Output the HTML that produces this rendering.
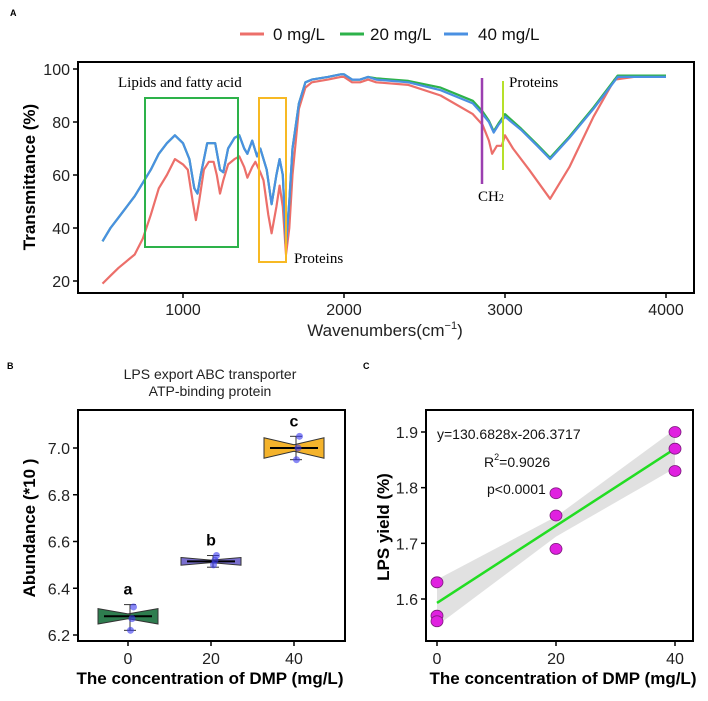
<!DOCTYPE html>
<html><head><meta charset="utf-8">
<style>
html,body{margin:0;padding:0;background:#fff;overflow:hidden;}
svg{display:block;font-family:"Liberation Sans",Arial,sans-serif;}
</style></head>
<body>
<svg id="fig" width="708" height="701" viewBox="0 0 708 701" xmlns="http://www.w3.org/2000/svg">
<rect x="0" y="0" width="708" height="701" fill="#ffffff"/>
<g id="pa"></g>
<g id="pb"></g>
<g id="pc"></g>
</svg>
<script>
// ---------- Panel A data ----------
const wnRed = [500,550,600,700,750,800,850,900,950,1000,1030,1060,1080,1100,1130,1160,1190,1210,1230,1250,1280,1320,1350,1380,1400,1430,1450,1480,1500,1530,1550,1580,1600,1620,1640,1660,1680,1720,1760,1800,1900,1980,2000,2050,2100,2150,2200,2400,2600,2800,2860,2900,2920,2950,2980,3000,3050,3150,3280,3400,3550,3680,3800,4000];
const tRed = [19,22,25,30,36,45,55,60,66,64,62,50,43,50,62,65,65,60,53,58,64,66,67,63,59,63,65,61,58,45,38,48,56,48,30,40,60,85,93,95,96,97,97,95,95,96,95,94,90,83,79,73,68,71,71,75,70,62,51,63,82,96,97,97];
const wnBlue = [500,550,600,700,800,850,900,950,1000,1040,1070,1090,1110,1150,1200,1230,1250,1280,1320,1350,1380,1400,1430,1460,1480,1520,1550,1580,1600,1620,1640,1660,1680,1720,1760,1800,1900,1980,2000,2050,2100,2150,2200,2400,2600,2800,2860,2900,2930,2960,3000,3100,3200,3280,3400,3550,3700,3800,4000];
const tBlue = [35,40,44,52,62,68,72,75,72,66,55,53,60,72,72,62,61,70,74,75,70,68,73,67,70,62,49,60,66,60,34,50,70,87,95,96,97,98,98,96,96,97,96,95,92,87,83,80,76,79,82,77,71,66,74,85,97,97,97];
const tGreen = [35,40,44,52,62,68,72,75,72,66,55,53,60,72,72,62,61,70,74,75,70,68,73,67,70,62,49,60,66,60,34,50,70,87,95,96,97,98,98,96,96,97,96.5,95.5,93,88,84,80.5,76.5,79.5,83,77.5,71.5,66.5,74.5,85.5,97.5,97.5,97.5];
const aXTicks = [1000,2000,3000,4000];
const aYTicks = [20,40,60,80,100];

// ---------- Panel B data ----------
const bGroups = [0,20,40];
const bQ1 = [6.25,6.50,6.96];
const bMed = [6.28,6.515,7.00];
const bQ3 = [6.31,6.53,7.04];
const bWLo = [6.22,6.49,6.95];
const bWHi = [6.33,6.54,7.05];
const bPoints = [[6.22,6.27,6.32],[6.50,6.52,6.54],[6.95,7.00,7.05]];
const bLetters = ['a','b','c'];
const bYTicks = [6.2,6.4,6.6,6.8,7.0];

// ---------- Panel C data ----------
const cX = [0,0,0,20,20,20,40,40,40];
const cY = [1.63,1.57,1.56,1.79,1.75,1.69,1.90,1.87,1.83];
const cFit = [1.593,1.870];
const cXTicks = [0,20,40];
const cYTicks = [1.6,1.7,1.8,1.9];

const NS='http://www.w3.org/2000/svg';
function mk(parent,tag,attrs,text){const e=document.createElementNS(NS,tag);for(const k in attrs)e.setAttribute(k,attrs[k]);if(text!==undefined)e.textContent=text;parent.appendChild(e);return e;}

// ===== Panel A =====
const pa=document.getElementById('pa');
const ax=v=>183+(v-1000)*(666-183)/3000;
const ay=v=>281-(v-20)*(281-69)/80;
let e;
e=mk(pa,'text',{x:10,y:16,'font-size':9,'font-weight':'bold'},'A');


const leg=[['#ec6f6a','0 mg/L',240,273],['#2db24a','20 mg/L',340,370],['#4a90e2','40 mg/L',444,478]];
leg.forEach(l=>{
 const g=mk(pa,'g',{});
 
 
 mk(g,'line',{x1:l[2],x2:l[2]+24,y1:34,y2:34,stroke:l[0],'stroke-width':3});
 mk(g,'text',{x:l[3],y:40,'font-size':17,fill:'#111'},l[1]);
});
e=mk(pa,'rect',{x:78,y:62,width:616,height:231,fill:'none',stroke:'#000','stroke-width':2});


aXTicks.forEach(t=>{mk(pa,'line',{x1:ax(t),x2:ax(t),y1:293,y2:298,stroke:'#000','stroke-width':1.5});
 e=mk(pa,'text',{x:ax(t),y:315,'font-size':16,'text-anchor':'middle',fill:'#222'},t);
 
 });
aYTicks.forEach(t=>{mk(pa,'line',{x1:73,x2:78,y1:ay(t),y2:ay(t),stroke:'#000','stroke-width':1.5});
 e=mk(pa,'text',{x:70,y:ay(t)+6,'font-size':16,'text-anchor':'end',fill:'#222'},t);
 
 });
e=mk(pa,'text',{x:0,y:0,'font-size':17,'font-weight':'bold','text-anchor':'middle',transform:'translate(35,177) rotate(-90)'},'Transmittance (%)');


e=mk(pa,'text',{x:385,y:336,'font-size':17,'text-anchor':'middle',fill:'#222'});


e.innerHTML='Wavenumbers(cm<tspan dy="-7" font-size="11">−1</tspan><tspan dy="7">)</tspan>';
function line(g,xs,ys,col,name){const d=xs.map((x,i)=>(i?'L':'M')+ax(x).toFixed(1)+','+ay(ys[i]).toFixed(1)).join('');
 const p=mk(g,'path',{d:d,fill:'none',stroke:col,'stroke-width':2.2,'stroke-linejoin':'round'});
 
 }
line(pa,wnRed,tRed,'#ec6f6a','series-0-mg');
line(pa,wnBlue,tGreen,'#2db24a','series-20-mg');
line(pa,wnBlue,tBlue,'#4a90e2','series-40-mg');
e=mk(pa,'rect',{x:145,y:98,width:93,height:149,fill:'none',stroke:'#2db24a','stroke-width':2});


e=mk(pa,'rect',{x:259,y:98,width:27,height:164,fill:'none',stroke:'#f7b924','stroke-width':2});


e=mk(pa,'text',{x:118,y:87,'font-size':15,'font-family':'Liberation Serif,serif'},'Lipids and fatty acid');


e=mk(pa,'text',{x:294,y:263,'font-size':15,'font-family':'Liberation Serif,serif'},'Proteins');


e=mk(pa,'line',{x1:482,x2:482,y1:78,y2:184,stroke:'#9b3fb0','stroke-width':2.5});


e=mk(pa,'text',{x:478,y:201,'font-size':15,'font-family':'Liberation Serif,serif'});


e.innerHTML='CH<tspan font-size="10">2</tspan>';
e=mk(pa,'line',{x1:503,x2:503,y1:81,y2:170,stroke:'#b6e02a','stroke-width':2});


e=mk(pa,'text',{x:509,y:87,'font-size':15,'font-family':'Liberation Serif,serif'},'Proteins');



// ===== Panel B =====
const pb=document.getElementById('pb');
const bx=v=>128+v*(294-128)/40;
const by=v=>635-(v-6.2)*(635-448)/0.8;
e=mk(pb,'text',{x:7,y:369,'font-size':9,'font-weight':'bold'},'B');


e=mk(pb,'text',{x:210,y:379,'font-size':14,'text-anchor':'middle',fill:'#222'},'LPS export ABC transporter');


e=mk(pb,'text',{x:210,y:396,'font-size':14,'text-anchor':'middle',fill:'#222'},'ATP-binding protein');


e=mk(pb,'rect',{x:78,y:410,width:267,height:231,fill:'none',stroke:'#000','stroke-width':2});


bGroups.forEach(t=>{mk(pb,'line',{x1:bx(t),x2:bx(t),y1:641,y2:646,stroke:'#000','stroke-width':1.5});
 e=mk(pb,'text',{x:bx(t),y:664,'font-size':16,'text-anchor':'middle',fill:'#222'},t);
 
 });
bYTicks.forEach(t=>{mk(pb,'line',{x1:73,x2:78,y1:by(t),y2:by(t),stroke:'#000','stroke-width':1.5});
 e=mk(pb,'text',{x:70,y:by(t)+6,'font-size':16,'text-anchor':'end',fill:'#222'},t.toFixed(1));
 
 });
e=mk(pb,'text',{x:0,y:0,'font-size':17,'font-weight':'bold','text-anchor':'middle',transform:'translate(35,528) rotate(-90)'},'Abundance (*10 )');


e=mk(pb,'text',{x:210,y:684,'font-size':17,'font-weight':'bold','text-anchor':'middle'},'The concentration of DMP (mg/L)');


const bCols=['#2e7d4f','#7a6fcf','#f4b32c'];
bGroups.forEach((gv,i)=>{
 const g=mk(pb,'g',{});
 
 
 const c=bx(gv),L=c-30,R=c+30;
 const m=by(bMed[i]),hi=by(bQ3[i]),lo=by(bQ1[i]);
 const h=(lo-hi)/2;
 const pts=[[L,m-h*1.1],[c,m-h*0.35],[R,m-h*1.1],[R,m+h*1.1],[c,m+h*0.35],[L,m+h*1.1]].map(p=>p.join(',')).join(' ');
 mk(g,'polygon',{points:pts,fill:bCols[i],stroke:'#333','stroke-width':1});
 mk(g,'line',{x1:L+6,x2:R-6,y1:m,y2:m,stroke:'#000','stroke-width':2});
 const wx=c+2;
 mk(g,'line',{x1:wx,x2:wx,y1:by(bWHi[i]),y2:by(bWLo[i]),stroke:'#333','stroke-width':1});
 mk(g,'line',{x1:wx-6,x2:wx+6,y1:by(bWHi[i]),y2:by(bWHi[i]),stroke:'#333','stroke-width':1});
 mk(g,'line',{x1:wx-6,x2:wx+6,y1:by(bWLo[i]),y2:by(bWLo[i]),stroke:'#333','stroke-width':1});
 bPoints[i].forEach((v,j)=>{const p=mk(g,'circle',{cx:c+4+(j-1)*1.5,cy:by(v),r:3.5,fill:'#3a3af0','fill-opacity':0.6});
  
  });
 const lt=mk(pb,'text',{x:c,y:by(bWHi[i])-10,'font-size':16,'font-weight':'bold','text-anchor':'middle'},bLetters[i]);
 
 
});

// ===== Panel C =====
const pc=document.getElementById('pc');
const cx=v=>437+v*(675-437)/40;
const cy=v=>599-(v-1.6)*(599-432)/0.3;
e=mk(pc,'text',{x:363,y:369,'font-size':9,'font-weight':'bold'},'C');


e=mk(pc,'rect',{x:426,y:410,width:267,height:231,fill:'none',stroke:'#000','stroke-width':2});


cXTicks.forEach(t=>{mk(pc,'line',{x1:cx(t),x2:cx(t),y1:641,y2:646,stroke:'#000','stroke-width':1.5});
 e=mk(pc,'text',{x:cx(t),y:664,'font-size':16,'text-anchor':'middle',fill:'#222'},t);
 
 });
cYTicks.forEach(t=>{mk(pc,'line',{x1:421,x2:426,y1:cy(t),y2:cy(t),stroke:'#000','stroke-width':1.5});
 e=mk(pc,'text',{x:418,y:cy(t)+6,'font-size':16,'text-anchor':'end',fill:'#222'},t.toFixed(1));
 
 });
e=mk(pc,'text',{x:0,y:0,'font-size':17,'font-weight':'bold','text-anchor':'middle',transform:'translate(389,527) rotate(-90)'},'LPS yield (%)');


e=mk(pc,'text',{x:563,y:684,'font-size':17,'font-weight':'bold','text-anchor':'middle'},'The concentration of DMP (mg/L)');


const ci=[[0,1.552,1.635],[20,1.712,1.748],[40,1.835,1.905]];
const up=ci.map(r=>cx(r[0])+','+cy(r[2])).join(' L');
const dn=ci.slice().reverse().map(r=>cx(r[0])+','+cy(r[1])).join(' L');
e=mk(pc,'path',{d:'M'+up+' L'+dn+' Z',fill:'#d9d9d9','fill-opacity':0.8});


e=mk(pc,'line',{x1:cx(0),y1:cy(cFit[0]),x2:cx(40),y2:cy(cFit[1]),stroke:'#22dd22','stroke-width':2.5});


cX.forEach((x,i)=>{const p=mk(pc,'ellipse',{cx:cx(x),cy:cy(cY[i]),rx:6,ry:5.5,fill:'#e020e0',stroke:'#7a1a7a','stroke-width':0.8});
 
 });
e=mk(pc,'text',{x:437,y:439,'font-size':14,fill:'#111'},'y=130.6828x-206.3717');


e=mk(pc,'text',{x:484,y:467,'font-size':14,fill:'#111'});


e.innerHTML='R<tspan dy="-7" font-size="9">2</tspan><tspan dy="7">=0.9026</tspan>';
e=mk(pc,'text',{x:487,y:494,'font-size':14,fill:'#111'},'p<0.0001');


</script>
</body></html>
